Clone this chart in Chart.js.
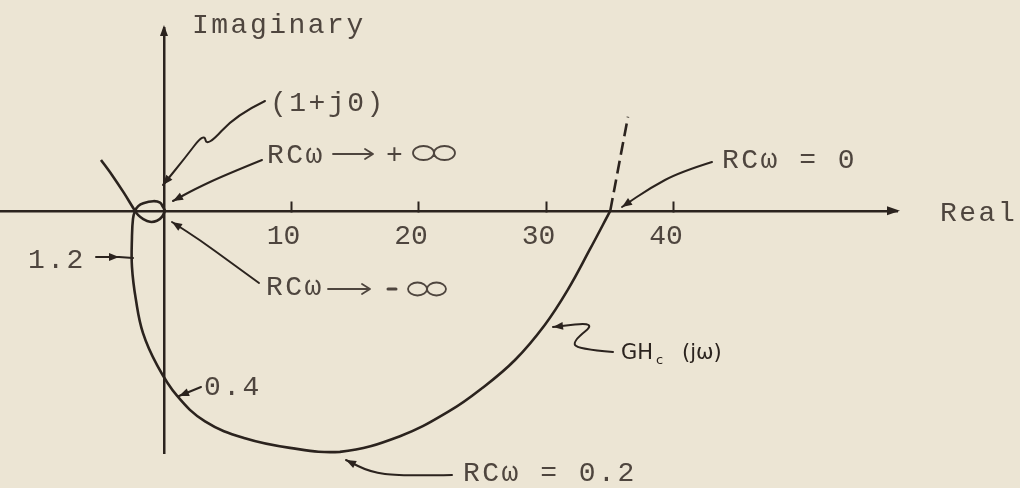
<!DOCTYPE html>
<html>
<head>
<meta charset="utf-8">
<script src="https://cdn.jsdelivr.net/npm/chart.js@4.4.1/dist/chart.umd.min.js"></script>
<style>
  html, body { margin: 0; padding: 0; background: #ece5d4; }
  #wrap { width: 1020px; height: 488px; position: relative; }
</style>
</head>
<body>
<div id="wrap"><canvas id="nyquist"></canvas></div>
<script>
//GHc(jω) の軌跡 RCω = 0 から +∞ まで（実部と虚部）
var locus_re = [35, 33.41, 31.69, 29.88, 27.53, 24.94, 22.43, 18.51, 13.80, 9.88, 6.35, 3.22, 1.02, -0.55, -1.65, -2.20, -2.51, -2.51, -2.43, -2.27, -2.02, -1.62, -0.84, -0.31, -0.08, 0.08];
var locus_im = [0, -3.01, -6.16, -8.93, -11.70, -13.92, -15.68, -17.68, -18.91, -18.60, -17.85, -16.52, -14.50, -12.08, -9.57, -6.98, -4.39, -2.04, -0.63, 0, 0.37, 0.60, 0.76, 0.65, 0.31, 0];
//RCω → -∞ 側（原点から左上へ）
var neg_re = [0.08, -0.16, -0.55, -1.10, -1.62, -2.02, -2.27, -3.14, -4.08, -4.94];
var neg_im = [0, -0.47, -0.78, -0.86, -0.65, -0.34, 0, 1.41, 2.82, 4.0];
//破線の部分
var dash_re = [35, 36.39];
var dash_im = [0, 7.38];
//実軸の目盛り
var real_ticks = [10, 20, 30, 40];

var ink = '#2b231e';
var type_ink = '#4e453e';
var type_font = '28px "Liberation Mono"';

function to_points(re, im){
    return re.map(function(v, i){ return {x: v, y: im[i]}; });
}

//矢じり（塗りつぶし三角）
function arrow_head(ctx, x0, y0, x1, y1, len, half){
    var a = Math.atan2(y1 - y0, x1 - x0);
    ctx.beginPath();
    ctx.moveTo(x1, y1);
    ctx.lineTo(x1 - len * Math.cos(a) + half * Math.sin(a), y1 - len * Math.sin(a) - half * Math.cos(a));
    ctx.lineTo(x1 - len * Math.cos(a) - half * Math.sin(a), y1 - len * Math.sin(a) + half * Math.cos(a));
    ctx.closePath();
    ctx.fill();
}

//なめらかな引き出し線
function leader(ctx, pts){
    ctx.beginPath();
    ctx.moveTo(pts[0][0], pts[0][1]);
    for(var i = 1; i < pts.length - 1; i++){
        var mx = (pts[i][0] + pts[i + 1][0]) / 2;
        var my = (pts[i][1] + pts[i + 1][1]) / 2;
        ctx.quadraticCurveTo(pts[i][0], pts[i][1], mx, my);
    }
    var n = pts.length - 1;
    ctx.lineTo(pts[n][0], pts[n][1]);
    ctx.stroke();
}

//タイプした ∞
function infinity(ctx, cx, cy, w, h){
    ctx.beginPath();
    ctx.ellipse(cx - w / 4, cy, w / 4, h / 2, 0, 0, Math.PI * 2);
    ctx.moveTo(cx + w / 2, cy);
    ctx.ellipse(cx + w / 4, cy, w / 4, h / 2, 0, 0, Math.PI * 2);
    ctx.stroke();
}

//タイプした ⟶
function typed_arrow(ctx, x0, x1, y){
    ctx.beginPath();
    ctx.moveTo(x0, y);
    ctx.lineTo(x1, y);
    ctx.moveTo(x1 - 8, y - 5);
    ctx.lineTo(x1, y);
    ctx.lineTo(x1 - 8, y + 5);
    ctx.stroke();
}

var type_notes = [
    {text: 'Imaginary', x: 192, y: 33},
    {text: '(1+j0)', x: 270, y: 111},
    {text: 'RCω', x: 267, y: 163},
    {text: '+', x: 386, y: 163},
    {text: 'RCω', x: 266, y: 295},
    {text: 'RCω = 0', x: 722, y: 168},
    {text: 'Real', x: 940, y: 221},
    {text: '1.2', x: 28, y: 268},
    {text: '0.4', x: 204, y: 395},
    {text: 'RCω = 0.2', x: 463, y: 481}
];

var leaders = [
    [[265, 101], [236, 115], [207, 147], [204, 133], [185, 158], [163, 185]],
    [[262, 160], [225, 175], [195, 189], [173, 201]],
    [[259, 283], [230, 262], [200, 240], [172, 222]],
    [[712, 162], [680, 172], [650, 188], [622, 207]],
    [[96, 257], [119, 257]],
    [[201, 387], [179, 396]],
    [[452, 475], [400, 476], [370, 472], [346, 460]],
    [[613, 352], [577, 349], [573, 341], [597, 322], [553, 327]]
];

var notes_plugin = {
    id: 'notes',
    afterDraw: function(chart){
        var ctx = chart.ctx;
        var area = chart.chartArea;
        var x0 = chart.scales.x.getPixelForValue(0);
        var y0 = chart.scales.y.getPixelForValue(0);
        ctx.save();
        ctx.fillStyle = ink;
        ctx.strokeStyle = ink;
        //軸の矢印
        arrow_head(ctx, area.right - 10, y0, area.right + 3, y0, 13, 4.5);
        arrow_head(ctx, x0, area.top + 10, x0, area.top - 3, 11, 4);
        //引き出し線
        ctx.lineWidth = 2;
        ctx.lineCap = 'round';
        ctx.lineJoin = 'round';
        leaders.forEach(function(p){
            leader(ctx, p);
            var n = p.length - 1;
            arrow_head(ctx, p[n - 1][0], p[n - 1][1], p[n][0], p[n][1], 10, 4);
        });
        //1.2 の線は曲線まで伸ばす
        ctx.beginPath();
        ctx.moveTo(119, 257);
        ctx.lineTo(133, 258);
        ctx.stroke();
        //タイプ文字
        ctx.fillStyle = type_ink;
        ctx.strokeStyle = type_ink;
        ctx.font = type_font;
        ctx.letterSpacing = '2.5px';
        ctx.textBaseline = 'alphabetic';
        ctx.textAlign = 'left';
        type_notes.forEach(function(t){ ctx.fillText(t.text, t.x, t.y); });
        ctx.letterSpacing = '0px';
        ctx.lineWidth = 1.8;
        typed_arrow(ctx, 333, 373, 154);
        typed_arrow(ctx, 328, 370, 289);
        infinity(ctx, 434, 153, 42, 14);
        infinity(ctx, 427, 289, 38, 13);
        ctx.lineWidth = 3;
        ctx.beginPath();
        ctx.moveTo(388, 289);
        ctx.lineTo(396, 289);
        ctx.stroke();
        //手書きの GHc(jω)
        ctx.fillStyle = ink;
        ctx.font = '21px "DejaVu Sans"';
        ctx.fillText('GH', 621, 359);
        ctx.font = '13px "DejaVu Sans"';
        ctx.fillText('c', 656, 364);
        ctx.font = '21px "DejaVu Sans"';
        ctx.fillText('(jω)', 682, 359);
        ctx.restore();
    }
};

var line_style = {
    borderColor: ink,
    borderWidth: 2.6,
    pointRadius: 0,
    showLine: true,
    fill: false,
    clip: false
};

var ctx = document.getElementById('nyquist');
var nyquist_chart = new Chart(ctx, {
    type: 'scatter',
    data: {
        datasets: [
            Object.assign({label: 'GHc(jω)', data: to_points(locus_re, locus_im), tension: 0.4}, line_style),
            Object.assign({label: 'RCω → -∞', data: to_points(neg_re, neg_im), tension: 0.35}, line_style),
            Object.assign({label: 'dash', data: to_points(dash_re, dash_im), tension: 0, borderDash: [13, 6], borderWidth: 2.4}, line_style)
        ]
    },
    options: {
        responsive: true,
        maintainAspectRatio: false,
        animation: false,
        layout: {padding: {left: 0, right: 123, top: 28, bottom: 35}},
        plugins: {legend: {display: false}, tooltip: {enabled: false}},
        scales: {
            x: {
                type: 'linear',
                position: {y: 0},
                min: -12.86,
                max: 57.49,
                afterBuildTicks: function(scale){
                    scale.ticks = real_ticks.map(function(v){ return {value: v}; });
                },
                ticks: {
                    font: {family: 'Liberation Mono', size: 28},
                    color: type_ink,
                    padding: 20,
                    labelOffset: -8,
                    autoSkip: false,
                    maxRotation: 0
                },
                grid: {display: true, drawOnChartArea: false, drawTicks: true, tickLength: -11, tickWidth: 2, tickColor: ink},
                border: {display: true, color: ink, width: 2.5}
            },
            y: {
                type: 'linear',
                position: {x: 0},
                min: -19.0,
                max: 14.35,
                ticks: {display: false},
                grid: {display: false},
                border: {display: true, color: ink, width: 2.5}
            }
        }
    },
    plugins: [notes_plugin]
});
</script>
</body>
</html>
